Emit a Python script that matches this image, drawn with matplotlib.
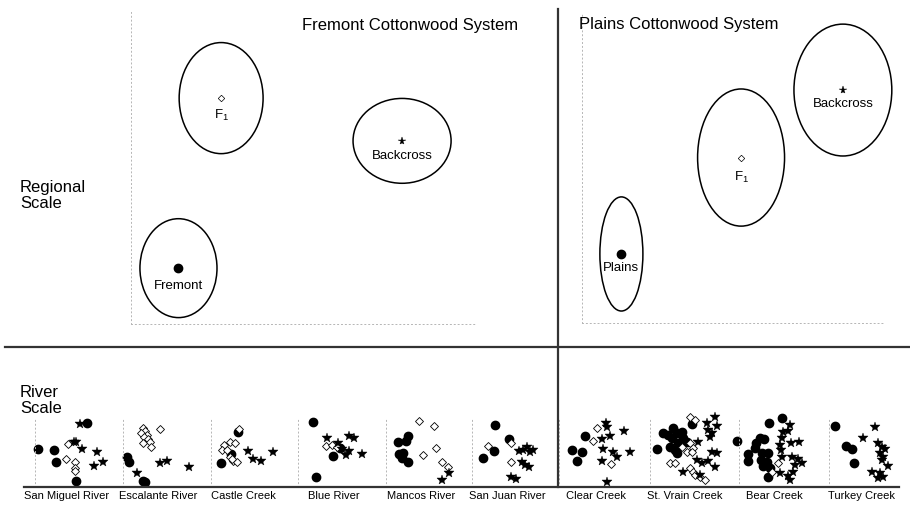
import matplotlib
matplotlib.use('Agg')
import matplotlib.pyplot as plt
from matplotlib.patches import Ellipse
from matplotlib.lines import Line2D

plt.rcParams['font.family'] = ['Liberation Sans', 'DejaVu Sans']
plt.rcParams['mathtext.default'] = 'regular'

W, H = 910, 509

# ---- regional scale: group centroids and ellipse sizes (score units 0-10) ----
GROUPS = ['Fremont', 'F$_1$', 'Backcross']

FREMONT_CX = [1.38, 2.62, 7.88]
FREMONT_CY = [1.79, 7.24, 5.87]
FREMONT_W = [2.24, 2.44, 2.85]
FREMONT_H = [3.17, 3.56, 2.72]

PLAINS_NAMES = ['Plains', 'F$_1$', 'Backcross']
PLAINS_CX = [1.30, 5.25, 8.61]
PLAINS_CY = [2.22, 5.32, 7.49]
PLAINS_W = [1.42, 2.87, 3.23]
PLAINS_H = [3.67, 4.41, 4.24]

# ---- river scale: individual trees per river ----
RIVERS = ['San Miguel River', 'Escalante River', 'Castle Creek', 'Blue River',
          'Mancos River', 'San Juan River', 'Clear Creek', 'St. Vrain Creek',
          'Bear Creek', 'Turkey Creek']

PURE = {
    'San Miguel River': [(3, 38), (19, 37), (21, 25), (52, 64), (41, 6)],
    'Escalante River': [(4, 30), (6, 25), (20, 6), (22, 5)],
    'Castle Creek': [(27, 55), (20, 33), (10, 24)],
    'Blue River': [(15, 65), (18, 10), (35, 31), (42, 39)],
    'Mancos River': [(22, 51), (20, 46), (12, 45), (13, 33), (17, 34), (16, 29), (22, 25)],
    'San Juan River': [(23, 62), (37, 48), (22, 36), (11, 29)],
    'Clear Creek': [(13, 37), (23, 35), (18, 26), (26, 51)],
    'St. Vrain Creek': [(7, 38), (13, 54), (18, 52), (23, 59), (22, 49), (27, 54), (32, 55),
                        (33, 49), (28, 44), (25, 37), (27, 34), (20, 40), (42, 63), (37, 45)],
    'Bear Creek': [(-2, 46), (30, 64), (43, 69), (21, 49), (25, 48), (17, 44), (16, 39), (9, 33),
                   (9, 26), (23, 34), (29, 34), (22, 27), (28, 25), (24, 21), (29, 10), (31, 19)],
    'Turkey Creek': [(6, 61), (17, 41), (23, 38), (25, 24)],
}

F1 = {
    'San Miguel River': [(33, 43), (31, 28), (40, 25), (40, 19), (40, 16)],
    'Escalante River': [(20, 59), (22, 56), (18, 54), (24, 52), (21, 50), (25, 48), (27, 45),
                        (20, 44), (28, 40), (37, 58)],
    'Castle Creek': [(28, 58), (13, 42), (19, 45), (24, 44), (11, 37), (16, 37), (19, 30),
                     (22, 26), (26, 25), (21, 28)],
    'Blue River': [(28, 41), (34, 42), (39, 40)],
    'Mancos River': [(33, 66), (48, 61), (37, 32), (50, 39), (56, 25), (62, 20)],
    'San Juan River': [(16, 41), (39, 44), (39, 25)],
    'Clear Creek': [(38, 59), (34, 46), (52, 23)],
    'St. Vrain Creek': [(40, 70), (45, 67), (40, 44), (43, 39), (37, 35), (42, 35), (20, 24),
                        (25, 24), (40, 19), (43, 15), (45, 12), (50, 10), (55, 7), (32, 40)],
    'Bear Creek': [(39, 24), (33, 15)],
    'Turkey Creek': [],
}

BACKCROSS = {
    'San Miguel River': [(45, 63), (41, 45), (39, 45), (47, 38), (62, 35), (68, 25), (59, 21)],
    'Escalante River': [(14, 14), (37, 24), (44, 26), (66, 20)],
    'Castle Creek': [(37, 36), (42, 28), (50, 26), (62, 35)],
    'Blue River': [(29, 49), (51, 51), (56, 49), (40, 44), (44, 38), (51, 36), (48, 32), (64, 33)],
    'Mancos River': [(63, 14), (56, 7)],
    'San Juan River': [(47, 36), (51, 37), (55, 40), (58, 35), (61, 37), (50, 25), (53, 22),
                       (57, 20), (39, 10), (44, 8)],
    'Clear Creek': [(47, 64), (48, 60), (43, 48), (51, 51), (65, 56), (44, 38), (54, 35),
                    (58, 30), (71, 35), (43, 26), (48, 5)],
    'St. Vrain Creek': [(65, 70), (57, 64), (67, 61), (58, 57), (62, 54), (60, 50), (48, 45),
                        (62, 35), (67, 34), (47, 27), (52, 24), (58, 26), (65, 20), (33, 15), (50, 12)],
    'Bear Creek': [(51, 62), (49, 56), (44, 55), (43, 49), (52, 44), (60, 45), (41, 42), (42, 37),
                   (43, 30), (53, 30), (59, 28), (63, 24), (56, 22), (54, 15), (41, 14), (49, 11), (51, 7)],
    'Turkey Creek': [(46, 60), (34, 49), (49, 44), (53, 40), (56, 38), (51, 34), (54, 30), (53, 27),
                     (59, 21), (43, 15), (51, 14), (54, 10), (49, 9)],
}

MARKERS = [dict(marker='o', ms=6.0, mfc='black', mec='black'),
           dict(marker='D', ms=3.3, mfc='white', mec='black', mew=0.5),
           dict(marker='*', ms=5.8, mfc='black', mec='black', mew=0.3)]
SMALL_MARKERS = [dict(marker='o', ms=6.0, mfc='black', mec='black'),
                 dict(marker='D', ms=3.9, mfc='white', mec='black', mew=0.6),
                 dict(marker='*', ms=7.0, mfc='black', mec='black', mew=0.3)]
DOT = dict(color='#b5b5b5', linestyle=(0, (1, 3)), linewidth=0.7)


def px_axes(fig, left, top, right, bottom):
    return fig.add_axes([left / W, 1 - bottom / H, (right - left) / W, (bottom - top) / H])


def dotted_frame(ax, bottom=True):
    for s in ['top', 'right']:
        ax.spines[s].set_visible(False)
    ax.spines['bottom'].set_visible(bottom)
    for s in ['left', 'bottom']:
        ax.spines[s].set_color(DOT['color'])
        ax.spines[s].set_linestyle(DOT['linestyle'])
        ax.spines[s].set_linewidth(DOT['linewidth'])
    ax.set_xticks([])
    ax.set_yticks([])
    ax.patch.set_visible(False)


def regional(ax, names, cx, cy, w, h, label_dy):
    ax.set_xlim(0, 10)
    ax.set_ylim(0, 10)
    dotted_frame(ax)
    for i, name in enumerate(names):
        ax.add_patch(Ellipse((cx[i], cy[i]), w[i], h[i], fill=False, ec='black', lw=1.1,
                             clip_on=False))
        ax.plot(cx[i], cy[i], linestyle='none', clip_on=False, **MARKERS[i])
        ax.annotate(name, (cx[i], cy[i]), xytext=(0, -label_dy[i]), textcoords='offset points',
                    ha='center', va='center', fontsize=9.5)


fig = plt.figure(figsize=(W / 100, H / 100), dpi=100)

ax_f = px_axes(fig, 131, 12, 475, 324)
regional(ax_f, GROUPS, FREMONT_CX, FREMONT_CY, FREMONT_W, FREMONT_H, [13, 12.5, 11])
ax_p = px_axes(fig, 582, 12, 885, 323)
regional(ax_p, PLAINS_NAMES, PLAINS_CX, PLAINS_CY, PLAINS_W, PLAINS_H, [10, 14.5, 10])

fig.text(302 / W, 1 - 18 / H, 'Fremont Cottonwood System', fontsize=12, va='top')
fig.text(579 / W, 1 - 17 / H, 'Plains Cottonwood System', fontsize=12, va='top')
fig.text(20 / W, 1 - 180 / H, 'Regional\nScale', fontsize=12, va='top', linespacing=1.12)
fig.text(20 / W, 1 - 385 / H, 'River\nScale', fontsize=12, va='top', linespacing=1.12)

# small river panels
edges = [35, 123, 211, 298, 386, 472, 559, 650, 739, 829, 899]
label_x = [67, 158.5, 243.5, 334, 421.5, 507, 596, 685, 774, 862]
for i, river in enumerate(RIVERS):
    left, right = edges[i], edges[i + 1]
    ax = px_axes(fig, left, 417, right, 487)
    ax.set_xlim(0, right - left)
    ax.set_ylim(0, 70)
    dotted_frame(ax, bottom=False)
    for k, pts in enumerate([PURE[river], F1[river], BACKCROSS[river]]):
        if pts:
            xs = [p[0] for p in pts]
            ys = [p[1] for p in pts]
            ax.plot(xs, ys, linestyle='none', clip_on=False, **SMALL_MARKERS[k])
    fig.text(label_x[i] / W, 1 - 491 / H, river, fontsize=8, ha='center', va='top')

# panel dividers
fig.add_artist(Line2D([5 / W, 1], [1 - 347 / H] * 2, color='#333333', lw=1.6))
fig.add_artist(Line2D([558 / W] * 2, [1 - 9 / H, 1 - 487 / H], color='#333333', lw=1.6))
fig.add_artist(Line2D([24 / W, 899 / W], [1 - 487 / H] * 2, color='#333333', lw=1.6))

fig.savefig('out.png', dpi=100)
